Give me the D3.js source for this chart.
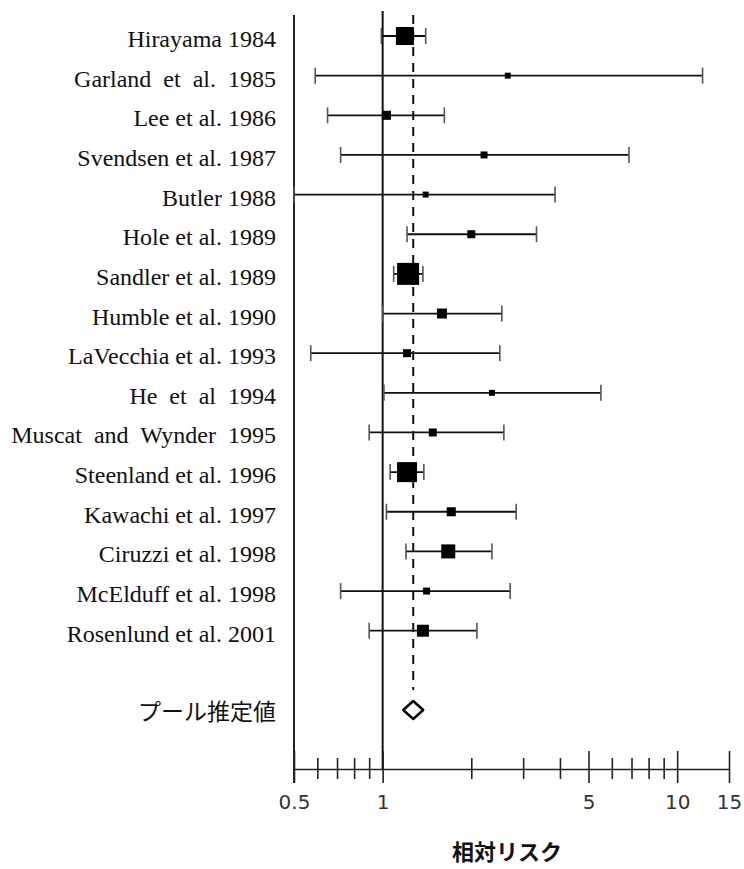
<!DOCTYPE html>
<html>
<head>
<meta charset="utf-8">
<script src="https://cdn.jsdelivr.net/npm/d3@7"></script>
<style>
  body { margin: 0; background: #fff; }
  svg { display: block; }
</style>
</head>
<body>
<div id="chart"></div>
<script>
// study data (relative risk with 95% CI)
const studies = ["Hirayama 1984", "Garland  et  al.  1985", "Lee et al. 1986", "Svendsen et al. 1987",
  "Butler 1988", "Hole et al. 1989", "Sandler et al. 1989", "Humble et al. 1990",
  "LaVecchia et al. 1993", "He  et  al  1994", "Muscat  and  Wynder  1995", "Steenland et al. 1996",
  "Kawachi et al. 1997", "Ciruzzi et al. 1998", "McElduff et al. 1998", "Rosenlund et al. 2001"];
const rr    = [1.19, 2.66, 1.03, 2.21, 1.40, 2.00, 1.22, 1.59, 1.21, 2.35, 1.48, 1.21, 1.71, 1.67, 1.41, 1.37];
const lower = [0.99, 0.59, 0.65, 0.72, 0.50, 1.21, 1.09, 1.00, 0.57, 1.01, 0.90, 1.06, 1.03, 1.20, 0.72, 0.90];
const upper = [1.40, 12.2, 1.62, 6.86, 3.85, 3.33, 1.37, 2.54, 2.50, 5.51, 2.58, 1.38, 2.84, 2.35, 2.71, 2.09];
const weight = [14.7, 1.6, 3.7, 2.2, 1.6, 2.9, 21.9, 4.5, 2.9, 1.6, 2.9, 18.1, 3.7, 8.9, 2.2, 6.5];

const pooledLabel = "プール推定値";
const pooledRR = 1.27;

const tickValues = [0.5, 0.6, 0.7, 0.8, 0.9, 1, 2, 3, 4, 5, 6, 7, 8, 9, 10, 15];
const tickLabels = [0.5, 1, 5, 10, 15];
const xTitle = "相対リスク";

const width = 744, height = 869;

const svg = d3.select("#chart")
  .append("svg")
  .attr("width", width)
  .attr("height", height);

const x = d3.scaleLog()
  .domain([0.5, 15])
  .range([294, 729]);

// rows 0..15 are studies, row 17 is the pooled estimate
const y = d3.scaleLinear()
  .domain([0, 17])
  .range([36, 710]);

const size = d3.scaleSqrt()
  .domain([0, d3.max(weight)])
  .range([0, 22]);

const axisY = 769;

// left frame line
svg.append("line")
  .attr("x1", x(0.5)).attr("x2", x(0.5))
  .attr("y1", 15).attr("y2", 783)
  .attr("stroke", "#222").attr("stroke-width", 2);

// line of no effect
svg.append("line")
  .attr("x1", x(1)).attr("x2", x(1))
  .attr("y1", 11).attr("y2", axisY)
  .attr("stroke", "#111").attr("stroke-width", 2);

// pooled estimate dashed line
svg.append("line")
  .attr("x1", x(pooledRR)).attr("x2", x(pooledRR))
  .attr("y1", 15).attr("y2", y(17) - 20)
  .attr("stroke", "#111").attr("stroke-width", 2)
  .attr("stroke-dasharray", "9,7");

// x axis
const axis = d3.axisBottom(x)
  .tickValues(tickValues)
  .tickSizeOuter(0)
  .tickFormat(d => tickLabels.includes(d) ? d : "");

const gx = svg.append("g")
  .attr("transform", `translate(0, ${axisY})`)
  .call(axis);

gx.select(".domain").attr("stroke", "#222").attr("stroke-width", 1.6);
gx.selectAll(".tick line")
  .attr("stroke", "#222")
  .attr("stroke-width", 1.6)
  .attr("y1", d => tickLabels.includes(d) ? -18 : -11)
  .attr("y2", d => tickLabels.includes(d) ? 14 : 10);
gx.selectAll(".tick text")
  .attr("y", 26)
  .attr("fill", "#333")
  .style("font-family", "DejaVu Sans, sans-serif")
  .style("font-size", "20px");

// study rows
const rows = svg.selectAll(".row")
  .data(studies)
  .enter()
  .append("g")
  .attr("class", "row");

rows.append("line")
  .attr("x1", (d, i) => x(lower[i]))
  .attr("x2", (d, i) => x(upper[i]))
  .attr("y1", (d, i) => y(i))
  .attr("y2", (d, i) => y(i))
  .attr("stroke", "#111")
  .attr("stroke-width", 1.8);

// whisker caps
rows.selectAll(".cap")
  .data((d, i) => [lower[i], upper[i]].map(v => ({ v: v, i: i })))
  .enter()
  .append("line")
  .attr("class", "cap")
  .attr("x1", c => x(c.v))
  .attr("x2", c => x(c.v))
  .attr("y1", c => y(c.i) - 8)
  .attr("y2", c => y(c.i) + 8)
  .attr("stroke", "#555")
  .attr("stroke-width", 1.6);

rows.append("rect")
  .attr("x", (d, i) => x(rr[i]) - size(weight[i]) / 2)
  .attr("y", (d, i) => y(i) - size(weight[i]) / 2)
  .attr("width", (d, i) => size(weight[i]))
  .attr("height", (d, i) => size(weight[i]))
  .attr("fill", "#000");

rows.append("text")
  .attr("x", 276)
  .attr("y", (d, i) => y(i) + 11)
  .attr("text-anchor", "end")
  .style("font-family", "Liberation Serif, serif")
  .style("font-size", "24px")
  .style("white-space", "pre")
  .attr("fill", "#111")
  .text(d => d);

// pooled estimate
const px = x(pooledRR), py = y(17);
svg.append("path")
  .attr("d", `M${px},${py - 9} L${px + 10},${py} L${px},${py + 9} L${px - 10},${py} Z`)
  .attr("fill", "#fff")
  .attr("stroke", "#000")
  .attr("stroke-width", 2.4)
  .attr("stroke-linejoin", "round");

svg.append("text")
  .attr("x", 276)
  .attr("y", py + 4)
  .attr("text-anchor", "end")
  .attr("dominant-baseline", "middle")
  .style("font-family", "Noto Sans CJK JP, sans-serif")
  .style("font-size", "23px")
  .attr("fill", "#111")
  .text(pooledLabel);

// x title
svg.append("text")
  .attr("x", 507)
  .attr("y", 854)
  .attr("text-anchor", "middle")
  .attr("dominant-baseline", "middle")
  .style("font-family", "Noto Sans CJK JP, sans-serif")
  .style("font-size", "22px")
  .style("font-weight", "bold")
  .attr("fill", "#111")
  .text(xTitle);
</script>
</body>
</html>
